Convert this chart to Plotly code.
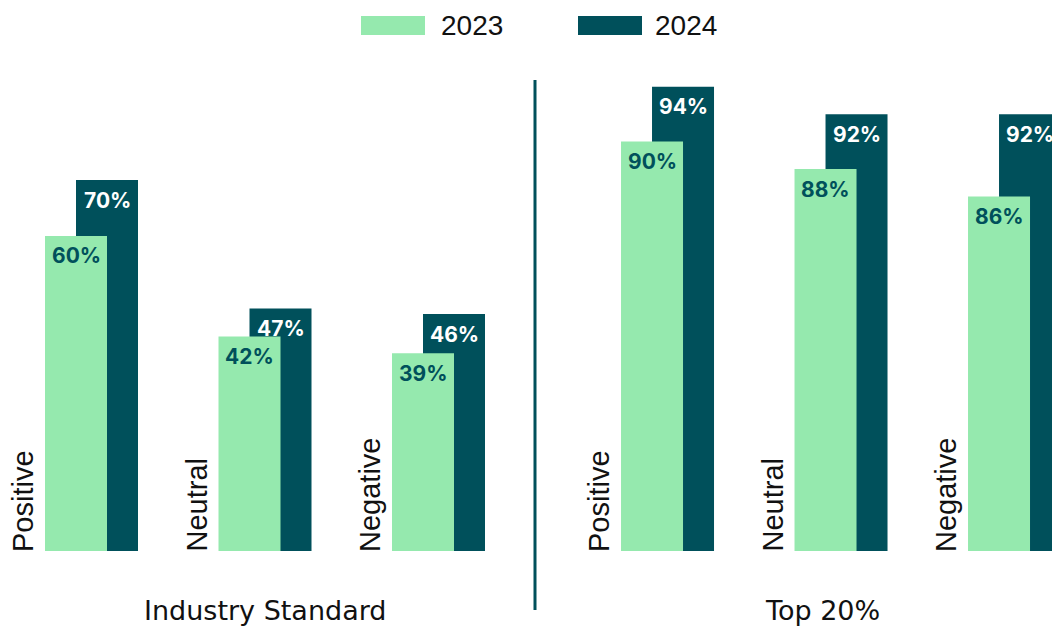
import plotly.graph_objects as go

# ---- data ----
categories = ["Positive", "Neutral", "Negative"]
groups = ["Industry Standard", "Top 20%"]
series_names = ["2023", "2024"]
industry_2023 = [60, 42, 39]
industry_2024 = [70, 47, 46]
top20_2023 = [90, 88, 86]
top20_2024 = [94, 92, 92]

# ---- style / layout constants ----
C2023 = "#95E9AE"
C2024 = "#00505B"
W, H = 1052, 627
PX_PER_UNIT = 173.5          # pixels per category step
X0_PX = 91.5                 # pixel of x=0
GROUP_STEP = 3.32            # x step between groups
BAR_W = 62 / PX_PER_UNIT
OFF_2023 = -46.5 / PX_PER_UNIT
OFF_2024 = -15.5 / PX_PER_UNIT
MT, MB = 80, 76
PLOT_H = H - MT - MB
BASE_PX = H - MB
Y_RANGES = [[3.6, 87.9], [60.1, 94.5]]   # each group drawn on its own value axis

def py_to_paper(py):
    return (BASE_PX - py) / PLOT_H

def px_to_x(px):
    return (px - X0_PX) / PX_PER_UNIT

group_data = [(industry_2023, industry_2024), (top20_2023, top20_2024)]
yrefs = ["y", "y2"]

fig = go.Figure()
annotations = []
pct_font = "Inter, 'Noto Sans', sans-serif"
for g, (v2023, v2024) in enumerate(group_data):
    pos = [g * GROUP_STEP + i for i in range(len(categories))]
    fig.add_trace(go.Bar(x=pos, y=v2024, width=BAR_W, offset=OFF_2024, yaxis=yrefs[g],
                         marker=dict(color=C2024, line=dict(width=0)),
                         name=series_names[1], showlegend=False, hoverinfo="skip"))
    fig.add_trace(go.Bar(x=pos, y=v2023, width=BAR_W, offset=OFF_2023, yaxis=yrefs[g],
                         marker=dict(color=C2023, line=dict(width=0)),
                         name=series_names[0], showlegend=False, hoverinfo="skip"))
    for x, v3, v4, cl in zip(pos, v2023, v2024, categories):
        annotations.append(dict(x=x + OFF_2023 + BAR_W / 2, y=v3, xref="x", yref=yrefs[g],
                                text=f"<b>{v3}%</b>", showarrow=False, yanchor="middle",
                                yshift=-20, font=dict(family=pct_font, size=21, color=C2024)))
        annotations.append(dict(x=x + OFF_2024 + BAR_W / 2, y=v4, xref="x", yref=yrefs[g],
                                text=f"<b>{v4}%</b>", showarrow=False, yanchor="middle",
                                yshift=-20, font=dict(family=pct_font, size=21, color="white")))
        annotations.append(dict(x=x + OFF_2023, y=0, xref="x", yref="paper", text=cl,
                                textangle=-90, showarrow=False, xanchor="right", yanchor="bottom",
                                xshift=-4, yshift=-3,
                                font=dict(family="'Liberation Sans', Arial, sans-serif", size=29,
                                          color="#111111")))

# group titles
title_px = [265, 822]
for gname, tpx in zip(groups, title_px):
    annotations.append(dict(x=px_to_x(tpx), y=py_to_paper(610), xref="x", yref="paper",
                            text=gname, showarrow=False, xanchor="center", yanchor="middle",
                            font=dict(family="'DejaVu Sans', sans-serif", size=27, color="#111111")))

# manual legend
shapes = []
legend_items = [(series_names[0], C2023, 361, 425, 439), (series_names[1], C2024, 578, 642, 653)]
for name, col, sx0, sx1, tx in legend_items:
    shapes.append(dict(type="rect", xref="paper", yref="paper",
                       x0=sx0 / W, x1=sx1 / W, y0=py_to_paper(35), y1=py_to_paper(16),
                       fillcolor=col, line=dict(width=0)))
    annotations.append(dict(x=tx / W, y=py_to_paper(25.5), xref="paper", yref="paper",
                            text=name, showarrow=False, xanchor="left", yanchor="middle",
                            font=dict(family="'Liberation Sans', Arial, sans-serif", size=28,
                                      color="#111111")))

# divider line
shapes.append(dict(type="line", xref="x", yref="paper", x0=px_to_x(535), x1=px_to_x(535),
                   y0=py_to_paper(610), y1=py_to_paper(80), line=dict(color=C2024, width=3)))

fig.update_layout(
    width=W, height=H, autosize=False,
    margin=dict(l=0, r=0, t=MT, b=MB, pad=0),
    paper_bgcolor="white", plot_bgcolor="white",
    barmode="overlay", showlegend=False,
    xaxis=dict(range=[px_to_x(0), px_to_x(W)], visible=False, fixedrange=True),
    yaxis=dict(range=Y_RANGES[0], visible=False, fixedrange=True),
    yaxis2=dict(range=Y_RANGES[1], visible=False, fixedrange=True, overlaying="y"),
    annotations=annotations, shapes=shapes,
)

fig.write_html("out.html", config={"displayModeBar": False})
